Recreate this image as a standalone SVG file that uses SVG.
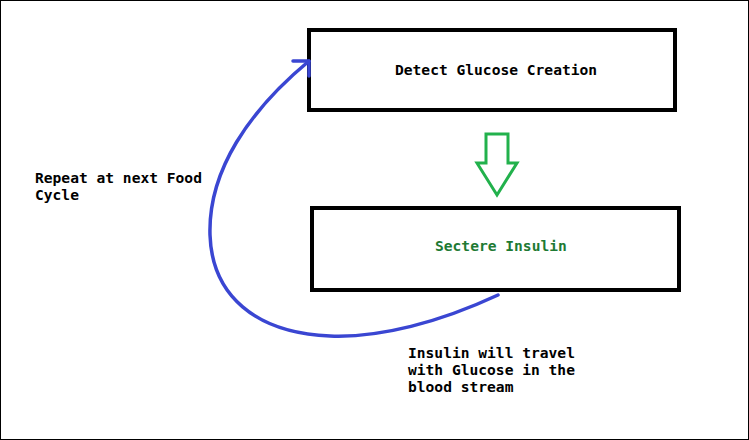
<svg xmlns="http://www.w3.org/2000/svg" width="749" height="440" viewBox="0 0 749 440">
<style>
.box{fill:#fff;stroke:#000;stroke-width:4}
.t{font-family:"DejaVu Sans Mono","Liberation Mono",monospace;font-weight:bold;font-size:14.6px;fill:#000}
.g{fill:#1e7a34}
.c{fill:none;stroke:#3a46d2;stroke-width:3.5;stroke-linecap:round;stroke-linejoin:round}
</style>
<rect x="0" y="0" width="749" height="440" fill="#fff"/>
<rect x="0.5" y="0.5" width="748" height="439" fill="none" stroke="#000" stroke-width="1"/>
<g id="detect">
<rect class="box" x="309" y="30" width="366" height="80"/>
<text class="t" x="395" y="75">Detect Glucose Creation</text>
</g>
<g id="secrete">
<rect class="box" x="312" y="208" width="367" height="82"/>
<text class="t g" x="435" y="251">Sectere Insulin</text>
</g>
<g id="label-repeat">
<text class="t" x="35" y="183">Repeat at next Food</text>
<text class="t" x="35" y="200">Cycle</text>
</g>
<g id="label-insulin">
<text class="t" x="408" y="358">Insulin will travel</text>
<text class="t" x="408" y="375">with Glucose in the</text>
<text class="t" x="408" y="392">blood stream</text>
</g>
<g id="connectors">
<polygon points="486,134 508,134 508,163 517,163 497,195 477,163 486,163" fill="#fff" stroke="#22b14c" stroke-width="3"/>
<path class="c" d="M498,295 C440,322 380,338 330,336 C255,333 212,295 210,235 C208,170 250,110 309,61"/>
<path class="c" d="M293,61 L309,61 L309,76"/>
</g>
</svg>
